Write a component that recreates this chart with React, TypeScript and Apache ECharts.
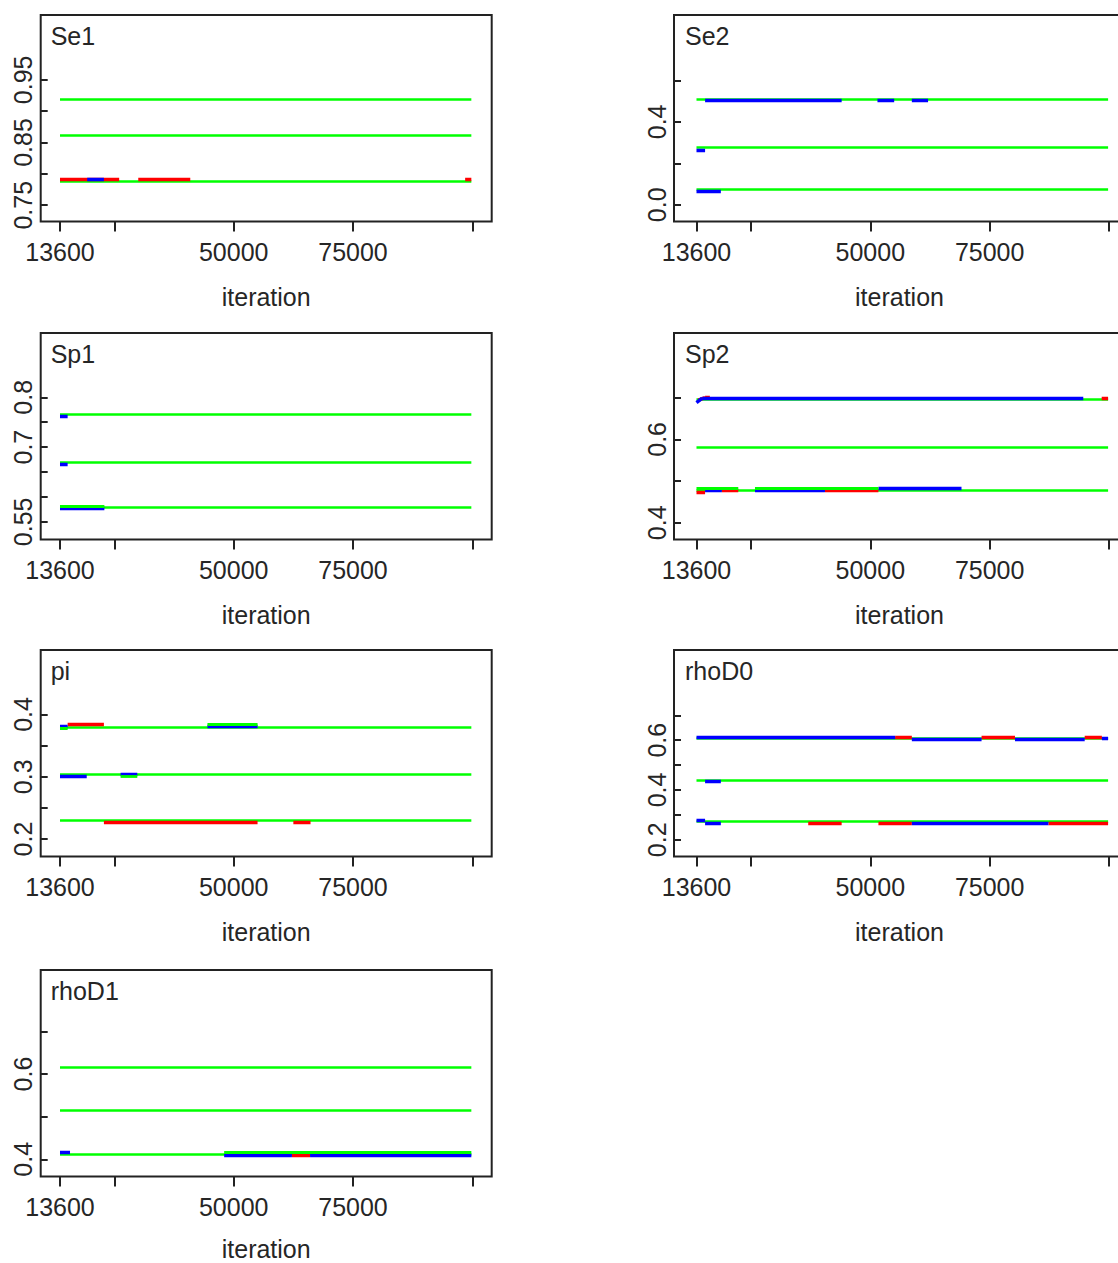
import React, { useEffect, useRef } from "react";
import * as echarts from "echarts";

// ---------- shared x axis ----------
const xTickValues = [13600, 25000, 50000, 75000, 100000];
const xLabelValues = [13600, 50000, 75000];
const iterStart = 13600;
const iterEnd = 99800;
const xAxisName = "iteration";

// segments: [xFrom, xTo, y] or [xFrom, xTo, yFrom, yTo]

// ---------- Se1 ----------
const se1Ticks = [0.75, 0.8, 0.85, 0.9, 0.95];
const se1Labels = [0.75, 0.85, 0.95];
const se1Range = [0.724, 1.0535];
const se1Green = [0.919, 0.8615, 0.789];
const se1Red = [[13600, 26000, 0.7915], [30000, 40900, 0.7915], [98500, 99800, 0.7915]];
const se1Blue = [[19300, 22800, 0.7915]];
const se1GreenStep: number[][] = [];

// ---------- Se2 ----------
const se2Ticks = [0, 0.2, 0.4, 0.6];
const se2Labels = [0, 0.4];
const se2Range = [-0.0807, 0.9155];
const se2Green = [0.508, 0.276, 0.077];
const se2Red: number[][] = [];
const se2Blue = [
  [15400, 44000, 0.503], [51500, 55000, 0.503], [58700, 62100, 0.503],
  [13600, 15400, 0.263], [13600, 18700, 0.067],
];
const se2GreenStep: number[][] = [];

// ---------- Sp1 ----------
const sp1Ticks = [0.55, 0.6, 0.65, 0.7, 0.75, 0.8];
const sp1Labels = [0.55, 0.7, 0.8];
const sp1Range = [0.5146, 0.929];
const sp1Green = [0.766, 0.669, 0.579];
const sp1Red: number[][] = [];
const sp1Blue = [[13600, 15200, 0.762], [13600, 15200, 0.665], [13600, 22900, 0.577]];
const sp1GreenStep = [[13600, 22900, 0.581]];

// ---------- Sp2 ----------
const sp2Ticks = [0.4, 0.5, 0.6, 0.7];
const sp2Labels = [0.4, 0.6];
const sp2Range = [0.36, 0.855];
const sp2Green = [0.696, 0.5815, 0.477];
const sp2Red = [
  [14000, 15400, 0.694, 0.7], [15400, 16400, 0.7], [98460, 99800, 0.699],
  [13600, 15400, 0.473], [18900, 22350, 0.477], [40500, 51700, 0.477],
];
const sp2Blue = [
  [13600, 14800, 0.688, 0.699], [14800, 94600, 0.699],
  [15400, 18900, 0.477], [25850, 40500, 0.477], [51700, 69100, 0.482],
];
const sp2GreenStep = [[13600, 22350, 0.484], [25850, 51700, 0.484]];

// ---------- pi ----------
const piTicks = [0.2, 0.25, 0.3, 0.35, 0.4];
const piLabels = [0.2, 0.3, 0.4];
const piRange = [0.172, 0.5035];
const piGreen = [0.38, 0.3035, 0.2304];
const piRed = [[15200, 22800, 0.3845], [22800, 55000, 0.2277], [62500, 66100, 0.2277]];
const piBlue = [
  [13600, 15200, 0.3805], [44500, 55000, 0.3805],
  [13600, 19200, 0.3008], [26300, 29800, 0.3035],
];
const piGreenStep = [[13600, 15200, 0.3775], [44500, 55000, 0.3845], [26300, 29800, 0.3005]];

// ---------- rhoD0 ----------
const rhoD0Ticks = [0.2, 0.3, 0.4, 0.5, 0.6, 0.7];
const rhoD0Labels = [0.2, 0.4, 0.6];
const rhoD0Range = [0.133, 0.962];
const rhoD0Green = [0.607, 0.4396, 0.2752];
const rhoD0Red = [
  [55200, 58700, 0.612], [73300, 80300, 0.612], [94900, 98500, 0.612],
  [37000, 44000, 0.268], [51700, 58700, 0.268], [87300, 99800, 0.268],
];
const rhoD0Blue = [
  [13600, 55200, 0.612], [58700, 73300, 0.602], [80300, 94900, 0.602], [98500, 99800, 0.606],
  [15400, 18700, 0.434],
  [13600, 15400, 0.277], [15400, 18700, 0.268], [58700, 87300, 0.268],
];
const rhoD0GreenStep: number[][] = [];

// ---------- rhoD1 ----------
const rhoD1Ticks = [0.4, 0.5, 0.6, 0.7];
const rhoD1Labels = [0.4, 0.6];
const rhoD1Range = [0.3596, 0.844];
const rhoD1Green = [0.617, 0.515, 0.4117];
const rhoD1Red = [[62200, 66000, 0.4105]];
const rhoD1Blue = [[13600, 15700, 0.417], [48000, 62200, 0.4105], [66000, 99800, 0.4105]];
const rhoD1GreenStep = [[48000, 99800, 0.4175]];

const panels = [
  { name: "Se1", ticks: se1Ticks, labels: se1Labels, range: se1Range, green: se1Green, red: se1Red, blue: se1Blue, step: se1GreenStep },
  { name: "Se2", ticks: se2Ticks, labels: se2Labels, range: se2Range, green: se2Green, red: se2Red, blue: se2Blue, step: se2GreenStep },
  { name: "Sp1", ticks: sp1Ticks, labels: sp1Labels, range: sp1Range, green: sp1Green, red: sp1Red, blue: sp1Blue, step: sp1GreenStep },
  { name: "Sp2", ticks: sp2Ticks, labels: sp2Labels, range: sp2Range, green: sp2Green, red: sp2Red, blue: sp2Blue, step: sp2GreenStep },
  { name: "pi", ticks: piTicks, labels: piLabels, range: piRange, green: piGreen, red: piRed, blue: piBlue, step: piGreenStep },
  { name: "rhoD0", ticks: rhoD0Ticks, labels: rhoD0Labels, range: rhoD0Range, green: rhoD0Green, red: rhoD0Red, blue: rhoD0Blue, step: rhoD0GreenStep },
  { name: "rhoD1", ticks: rhoD1Ticks, labels: rhoD1Labels, range: rhoD1Range, green: rhoD1Green, red: rhoD1Red, blue: rhoD1Blue, step: rhoD1GreenStep },
];

// ---------- layout ----------
const slots = [[0, 0], [1, 0], [0, 1], [1, 1], [0, 2], [1, 2], [0, 3]];
const colLeft = [40.7, 674];
const colXRange = [[9556, 104066], [8890, 103340]];
const titleDx = [10, 11];
const rowTop = [15, 333, 650, 970];
const rowNameGap = [63, 63, 63, 60];
const gridW = 451;
const gridH = 206.5;

const FONT = '"Liberation Sans", Arial, sans-serif';
const TEXT = "#262626";
const FRAME = "#222";

function segData(segs: number[][]) {
  return segs.map((s) => ({
    coords: [[s[0], s[2]], [s[1], s.length > 3 ? s[3] : s[2]]],
  }));
}

function fmtY(v: number) {
  if (Math.abs(v) < 1e-9) return "0.0";
  return String(+(+v).toFixed(4));
}

function buildOption() {
  const grid: any[] = [];
  const xAxis: any[] = [];
  const yAxis: any[] = [];
  const series: any[] = [];
  const graphic: any[] = [];

  panels.forEach((p, i) => {
    const [col, row] = slots[i];
    grid.push({
      left: colLeft[col], top: rowTop[row], width: gridW, height: gridH,
      show: true, borderColor: FRAME, borderWidth: 2, backgroundColor: "transparent",
      containLabel: false, outerBoundsMode: "none",
    });
    xAxis.push({
      type: "value", gridIndex: i, min: colXRange[col][0], max: colXRange[col][1],
      axisLine: { show: false, onZero: false },
      splitLine: { show: false },
      axisTick: { show: true, inside: false, length: 10, customValues: xTickValues, lineStyle: { color: FRAME, width: 2 } },
      axisLabel: { show: true, customValues: xLabelValues, margin: 18, fontSize: 25, fontFamily: FONT, color: TEXT, formatter: (v: number) => String(v) },
      name: xAxisName, nameLocation: "middle", nameGap: rowNameGap[row],
      nameTextStyle: { fontSize: 25, fontFamily: FONT, color: TEXT, lineHeight: 24 },
    });
    yAxis.push({
      type: "value", gridIndex: i, min: p.range[0], max: p.range[1],
      axisLine: { show: false, onZero: false },
      splitLine: { show: false },
      axisTick: { show: true, inside: true, length: 7, customValues: p.ticks, lineStyle: { color: FRAME, width: 2 } },
      axisLabel: { show: true, customValues: p.labels, rotate: 90, margin: 5, fontSize: 25, fontFamily: FONT, color: TEXT, formatter: fmtY },
    });
    const base = { type: "lines", coordinateSystem: "cartesian2d", xAxisIndex: i, yAxisIndex: i, silent: true, polyline: false, effect: { show: false } };
    series.push({
      ...base, z: 2,
      data: p.green.map((y) => ({ coords: [[iterStart, y], [iterEnd, y]] })),
      lineStyle: { color: "#00ff00", width: 2.6, opacity: 1, curveness: 0 },
    });
    series.push({ ...base, z: 3, data: segData(p.red), lineStyle: { color: "#ff0000", width: 3.4, opacity: 1, curveness: 0 } });
    series.push({ ...base, z: 4, data: segData(p.blue), lineStyle: { color: "#0000ff", width: 3.4, opacity: 1, curveness: 0 } });
    series.push({ ...base, z: 5, data: segData(p.step), lineStyle: { color: "#00ff00", width: 2.8, opacity: 1, curveness: 0 } });
    graphic.push({
      type: "text", x: colLeft[col] + titleDx[col], y: rowTop[row] + 21, z: 10,
      style: { text: p.name, fontSize: 25, fontFamily: FONT, fill: TEXT, align: "left", verticalAlign: "middle" },
    });
  });

  return { animation: false, backgroundColor: "#ffffff", grid, xAxis, yAxis, series, graphic };
}

export default function App() {
  const ref = useRef<HTMLDivElement>(null);
  useEffect(() => {
    if (!ref.current) return;
    const chart = echarts.init(ref.current, null, { renderer: "svg" });
    chart.setOption(buildOption() as any);
    return () => chart.dispose();
  }, []);
  return <div ref={ref} style={{ position: "absolute", left: 0, top: 0, width: 1118, height: 1263, background: "#fff" }} />;
}
